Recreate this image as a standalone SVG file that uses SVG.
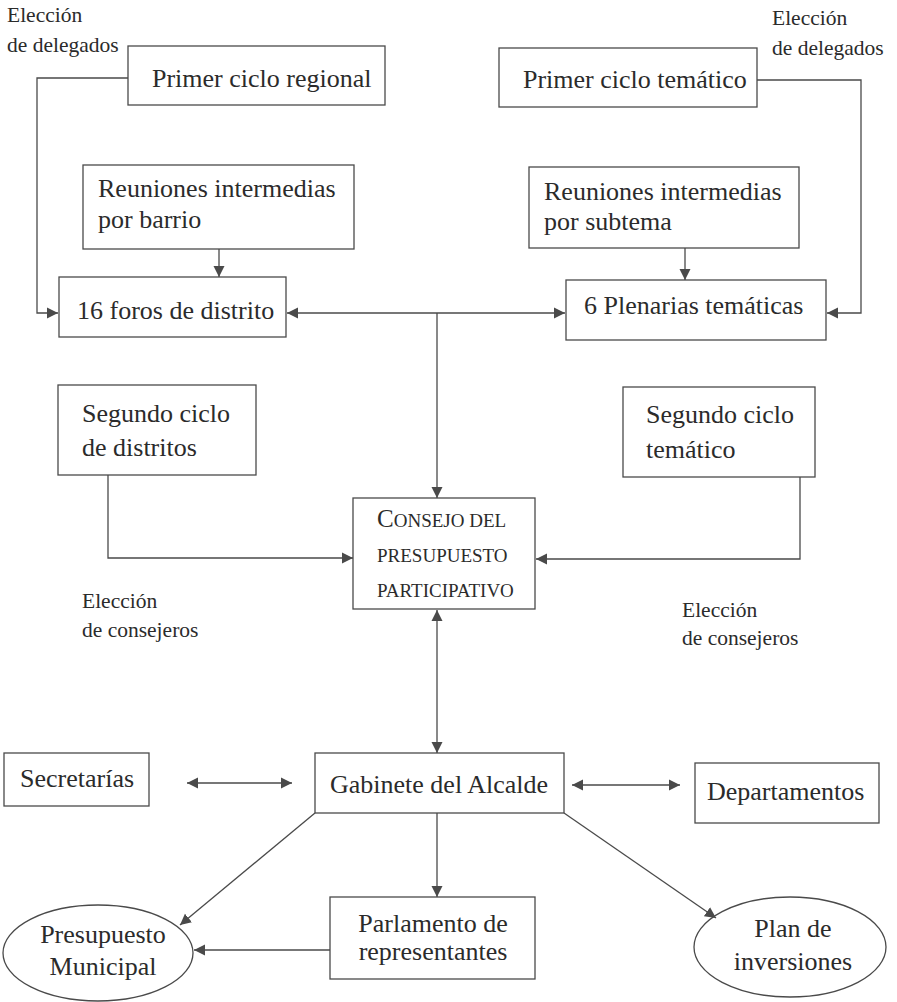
<svg xmlns="http://www.w3.org/2000/svg" width="897" height="1002" viewBox="0 0 897 1002">
<style>
  .box { fill: #ffffff; stroke: #4a4a4a; stroke-width: 1.3; }
  .t { font-family: "Liberation Serif", "Times New Roman", serif; font-size: 26px; fill: #2b2b2b; }
  .s { font-family: "Liberation Serif", "Times New Roman", serif; font-size: 21.5px; fill: #2b2b2b; }
  .sc { font-family: "Liberation Serif", "Times New Roman", serif; font-size: 19px; fill: #2b2b2b; }
  .big { font-size: 25px; }
  .ln { fill: none; stroke: #4a4a4a; stroke-width: 1.3; }
</style>
<defs>
  <marker id="ah" markerUnits="userSpaceOnUse" markerWidth="12" markerHeight="12" refX="11" refY="6" orient="auto-start-reverse" viewBox="0 0 12 12">
    <path d="M0,0.5 L11,6 L0,11.5 z" fill="#4a4a4a"/>
  </marker>
</defs>
<rect width="897" height="1002" fill="#ffffff"/>

<g id="label-eleccion-delegados-left">
  <text class="s" x="7" y="22">Elección</text>
  <text class="s" x="7" y="52">de delegados</text>
</g>
<g id="label-eleccion-delegados-right">
  <text class="s" x="772" y="25">Elección</text>
  <text class="s" x="772" y="55">de delegados</text>
</g>

<g id="primer-ciclo-regional">
  <rect class="box" x="128" y="46" width="257" height="59"/>
  <text class="t" x="152" y="87">Primer ciclo regional</text>
</g>
<g id="primer-ciclo-tematico">
  <rect class="box" x="499" y="48" width="258" height="59"/>
  <text class="t" x="523" y="88">Primer ciclo temático</text>
</g>
<g id="reuniones-barrio">
  <rect class="box" x="83" y="165" width="271" height="84"/>
  <text class="t" x="98" y="197">Reuniones intermedias</text>
  <text class="t" x="98" y="228">por barrio</text>
</g>
<g id="reuniones-subtema">
  <rect class="box" x="529" y="167" width="270" height="81"/>
  <text class="t" x="544" y="200">Reuniones intermedias</text>
  <text class="t" x="544" y="230">por subtema</text>
</g>
<g id="foros-distrito">
  <rect class="box" x="59" y="277" width="227" height="60"/>
  <text class="t" x="77" y="319">16 foros de distrito</text>
</g>
<g id="plenarias-tematicas">
  <rect class="box" x="566" y="280" width="260" height="60"/>
  <text class="t" x="584" y="314">6 Plenarias temáticas</text>
</g>
<g id="segundo-ciclo-distritos">
  <rect class="box" x="58" y="385" width="198" height="90"/>
  <text class="t" x="82" y="422">Segundo ciclo</text>
  <text class="t" x="82" y="456">de distritos</text>
</g>
<g id="segundo-ciclo-tematico">
  <rect class="box" x="623" y="387" width="192" height="90"/>
  <text class="t" x="646" y="423">Segundo ciclo</text>
  <text class="t" x="646" y="458">temático</text>
</g>
<g id="consejo">
  <rect class="box" x="353" y="498" width="182" height="111"/>
  <text class="sc" x="377" y="527"><tspan class="big">C</tspan>ONSEJO DEL</text>
  <text class="sc" x="377" y="562">PRESUPUESTO</text>
  <text class="sc" x="377" y="597">PARTICIPATIVO</text>
</g>
<g id="label-eleccion-consejeros-left">
  <text class="s" x="82" y="608">Elección</text>
  <text class="s" x="82" y="637">de consejeros</text>
</g>
<g id="label-eleccion-consejeros-right">
  <text class="s" x="682" y="617">Elección</text>
  <text class="s" x="682" y="645">de consejeros</text>
</g>
<g id="secretarias">
  <rect class="box" x="4" y="753" width="145" height="53"/>
  <text class="t" x="20" y="787">Secretarías</text>
</g>
<g id="gabinete">
  <rect class="box" x="315" y="753" width="249" height="60"/>
  <text class="t" x="330" y="793">Gabinete del Alcalde</text>
</g>
<g id="departamentos">
  <rect class="box" x="695" y="763" width="184" height="60"/>
  <text class="t" x="707" y="800">Departamentos</text>
</g>
<g id="parlamento">
  <rect class="box" x="330" y="897" width="205" height="82"/>
  <text class="t" x="433" y="932" text-anchor="middle">Parlamento de</text>
  <text class="t" x="433" y="960" text-anchor="middle">representantes</text>
</g>
<g id="presupuesto-municipal">
  <ellipse class="box" cx="98" cy="953" rx="95" ry="48"/>
  <text class="t" x="103" y="943" text-anchor="middle">Presupuesto</text>
  <text class="t" x="103" y="975" text-anchor="middle">Municipal</text>
</g>
<g id="plan-inversiones">
  <ellipse class="box" cx="790" cy="947" rx="96" ry="50"/>
  <text class="t" x="793" y="937" text-anchor="middle">Plan de</text>
  <text class="t" x="793" y="970" text-anchor="middle">inversiones</text>
</g>

<g id="connectors">
  <path class="ln" d="M128,78 H37 V313 H58" marker-end="url(#ah)"/>
  <path class="ln" d="M757,80 H861 V313 H827" marker-end="url(#ah)"/>
  <path class="ln" d="M219,249 V277" marker-end="url(#ah)"/>
  <path class="ln" d="M685,248 V280" marker-end="url(#ah)"/>
  <path class="ln" d="M287,313 H565" marker-start="url(#ah)" marker-end="url(#ah)"/>
  <path class="ln" d="M437,313 V498" marker-end="url(#ah)"/>
  <path class="ln" d="M108,475 V558 H353" marker-end="url(#ah)"/>
  <path class="ln" d="M800,477 V559 H536" marker-end="url(#ah)"/>
  <path class="ln" d="M437,610 V753" marker-start="url(#ah)" marker-end="url(#ah)"/>
  <path class="ln" d="M187,783 H292" marker-start="url(#ah)" marker-end="url(#ah)"/>
  <path class="ln" d="M572,785 H680" marker-start="url(#ah)" marker-end="url(#ah)"/>
  <path class="ln" d="M437,813 V897" marker-end="url(#ah)"/>
  <path class="ln" d="M330,950 H194" marker-end="url(#ah)"/>
  <path class="ln" d="M315,813 L180,925" marker-end="url(#ah)"/>
  <path class="ln" d="M564,813 L716,918" marker-end="url(#ah)"/>
</g>
</svg>
